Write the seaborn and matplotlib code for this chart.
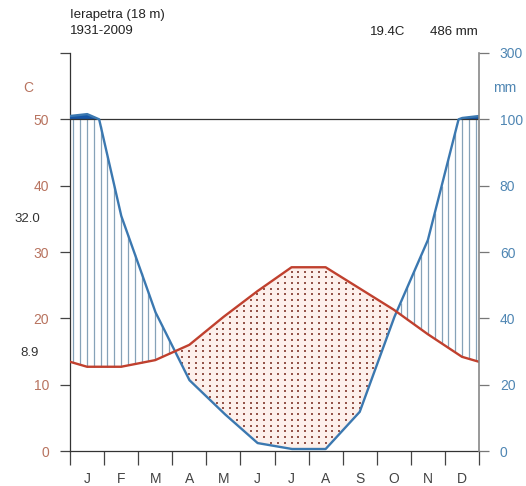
import numpy as np
import pandas as pd
import seaborn as sns
import matplotlib.pyplot as plt

sns.set_theme(style="white")
plt.rcParams['font.family'] = ['Liberation Sans', 'DejaVu Sans']

# monthly climate normals, Ierapetra 1931-2009
months = ["J", "F", "M", "A", "M", "J", "J", "A", "S", "O", "N", "D"]
temp = [12.7, 12.7, 13.7, 16.0, 20.2, 24.1, 27.7, 27.7, 24.5, 21.3, 17.6, 14.2]
prec = [116, 71, 42, 21.4, 11.5, 2.4, 0.6, 0.6, 11.8, 40, 63.6, 104]
station = "Ierapetra (18 m)"
period = "1931-2009"
mean_temp_label = "19.4C"
total_prec_label = "486 mm"
max_warm_label = "32.0"
min_cold_label = "8.9"
prec_ticks = [0, 20, 40, 60, 80, 100, 300]

c_temp = "#c0402e"
c_prec = "#3b78b0"
c_left = "#b8735f"
c_right = "#4f86b3"


def scale_prec(p):
    # Walter-Lieth: 2 mm per degree below 100 mm, 20 mm per degree above
    p = np.asarray(p, dtype=float)
    return np.where(p <= 100, p / 2.0, 50 + (p - 100) / 20.0)


# month centres plus wrap-around edges (mean of Dec and Jan)
xs = np.concatenate([[0], np.arange(12) + 0.5, [12]])
t_ext = np.concatenate([[(temp[0] + temp[-1]) / 2], temp, [(temp[0] + temp[-1]) / 2]])
p_ext = np.concatenate([[(prec[0] + prec[-1]) / 2], prec, [(prec[0] + prec[-1]) / 2]])

xd = np.linspace(0, 12, 2401)
td = np.interp(xd, xs, t_ext)
pd_mm = np.interp(xd, xs, p_ext)
ps = scale_prec(pd_mm)

df_t = pd.DataFrame({"x": xs, "temp": t_ext})
df_p = pd.DataFrame({"x": xd, "prec": ps})

fig = plt.figure(figsize=(5.26, 4.86), dpi=100)
ax = fig.add_axes([70 / 526, 35 / 486, 409 / 526, 398 / 486])

# dry season: light fill + dots
ax.fill_between(xd, ps, td, where=td > ps, interpolate=True,
                color="#fdf0ec", lw=0, zorder=1)
gx, gy = np.meshgrid(np.arange(0.1, 12, 0.2), np.arange(0.4, 50, 0.86))
gx, gy = gx.ravel(), gy.ravel()
gt = np.interp(gx, xs, t_ext)
gp = scale_prec(np.interp(gx, xs, p_ext))
mask = (gy < gt - 0.3) & (gy > gp + 0.3)
ax.scatter(gx[mask], gy[mask], s=1.5, marker="s", color="#94544a", lw=0, zorder=2)

# humid season: vertical hatching
hx = np.arange(0.1, 12, 0.2)
ht = np.interp(hx, xs, t_ext)
hp = np.minimum(scale_prec(np.interp(hx, xs, p_ext)), 50)
hm = hp > ht
ax.vlines(hx[hm], ht[hm], hp[hm], color="#86a2b8", lw=0.9, zorder=2)

# perhumid (> 100 mm)
ax.fill_between(xd, 50, ps, where=ps > 50, interpolate=True,
                color="#1656a6", lw=0, zorder=3)
ax.axhline(50, color="#333333", lw=0.9, zorder=3)

sns.lineplot(data=df_p, x="x", y="prec", ax=ax, color=c_prec, lw=1.7,
             zorder=4, estimator=None, sort=False)
sns.lineplot(data=df_t, x="x", y="temp", ax=ax, color=c_temp, lw=1.7,
             zorder=5, estimator=None, sort=False)

ax.set_xlim(0, 12)
ax.set_ylim(0, 60)
ax.set_xlabel("")
ax.set_ylabel("")
ax.set_xticks(np.arange(13))
ax.set_xticklabels([])
ax.set_xticks(np.arange(12) + 0.5, minor=True)
ax.set_xticklabels(months, minor=True)
ax.tick_params(axis="x", which="major", direction="out", length=10, width=0.9,
               color="#444444", bottom=True)
ax.tick_params(axis="x", which="minor", length=0, pad=15, labelsize=10,
               labelcolor="#444444")
ax.set_yticks(np.arange(0, 61, 10))
ax.set_yticklabels(["0", "10", "20", "30", "40", "50", ""])
ax.tick_params(axis="y", direction="out", length=7, width=0.9, color="#444444",
               left=True, labelsize=10, labelcolor=c_left, pad=8)
for s in ["top", "right"]:
    ax.spines[s].set_visible(False)
for s in ["left", "bottom"]:
    ax.spines[s].set_color("#333333")
    ax.spines[s].set_linewidth(0.9)

ax2 = ax.twinx()
ax2.set_ylim(0, 60)
ax2.set_yticks(np.arange(0, 61, 10))
ax2.set_yticklabels([str(v) for v in prec_ticks])
ax2.tick_params(axis="y", direction="out", length=7, width=0.9, color="#777777",
                right=True, labelsize=10, labelcolor=c_right, pad=8)
for s in ["top", "left", "bottom"]:
    ax2.spines[s].set_visible(False)
ax2.spines["right"].set_color("#888888")
ax2.spines["right"].set_linewidth(1.2)

fig.text(70 / 526, 1 - 15 / 486, station, fontsize=9.5, color="#222222", va="center")
fig.text(70 / 526, 1 - 31 / 486, period, fontsize=9.5, color="#222222", va="center")
fig.text(405 / 526, 1 - 32 / 486, mean_temp_label, fontsize=9.5, color="#222222",
         va="center", ha="right")
fig.text(478 / 526, 1 - 32 / 486, total_prec_label, fontsize=9.5, color="#222222",
         va="center", ha="right")
fig.text(28 / 526, 1 - 88 / 486, "C", fontsize=10, color=c_left, va="center", ha="center")
fig.text(505 / 526, 1 - 88 / 486, "mm", fontsize=10, color=c_right, va="center", ha="center")
fig.text(27 / 526, 1 - 219 / 486, max_warm_label, fontsize=9.5, color="#333333",
         va="center", ha="center")
fig.text(30 / 526, 1 - 353 / 486, min_cold_label, fontsize=9.5, color="#333333",
         va="center", ha="center")

fig.savefig("out.png", dpi=100, facecolor="white")
